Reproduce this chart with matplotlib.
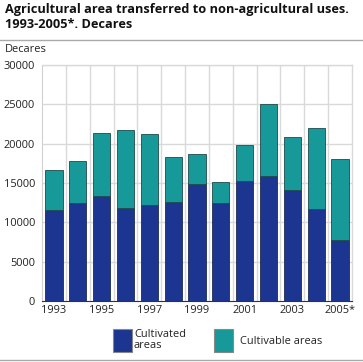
import matplotlib
matplotlib.use("Agg")
import matplotlib.pyplot as plt
from matplotlib.patches import Rectangle
from matplotlib.lines import Line2D
import numpy as np

years = ["1993", "1994", "1995", "1996", "1997", "1998", "1999",
         "2000", "2001", "2002", "2003", "2004", "2005*"]
cultivated = [11600, 12500, 13300, 11800, 12200, 12600, 14900,
              12500, 15200, 15900, 14100, 11700, 7800]
total = [16600, 17800, 21300, 21700, 21250, 18300, 18700,
         15100, 19800, 25000, 20900, 22000, 18000]
cultivable = [t - c for t, c in zip(total, cultivated)]
yticks = [0, 5000, 10000, 15000, 20000, 25000, 30000]

c_blue = "#1b3590"
c_teal = "#17999a"
font = ["Open Sans", "DejaVu Sans"]
plt.rcParams["font.family"] = font
fs = 7.9

fig = plt.figure(figsize=(3.63, 3.62), dpi=100)
ax = fig.add_axes([42/363, 1-301/362, (352-42)/363, (301-65)/362])

x = np.arange(len(years))
ax.bar(x, cultivated, width=0.72, color=c_blue, edgecolor="#1d2a50", linewidth=0.6, zorder=3)
ax.bar(x, cultivable, bottom=cultivated, width=0.72, color=c_teal, edgecolor="#1f4a4a", linewidth=0.6, zorder=3)

ax.set_xlim(-0.5, len(years) - 0.5)
ax.set_ylim(0, 30000)
ax.set_yticks(yticks)
ax.set_yticklabels([str(v) for v in yticks], fontsize=fs, color="#222222")
ax.set_xticks(x[::2])
ax.set_xticklabels(years[::2], fontsize=fs, color="#222222")
ax.tick_params(length=0, pad=3)
ax.tick_params(axis="y", pad=5)

for v in yticks[1:]:
    ax.axhline(v, color="#d9d9d9", lw=1.0, zorder=1)
for b in np.arange(0.5, len(years) - 0.5, 1):
    ax.axvline(b, color="#d9d9d9", lw=1.0, zorder=1)
for s in ["top", "right"]:
    ax.spines[s].set_color("#d9d9d9")
    ax.spines[s].set_linewidth(1.0)
ax.spines["left"].set_color("#d0d0d0")
ax.spines["bottom"].set_color("#333333")
ax.spines["bottom"].set_linewidth(0.8)

fig.text(5/363, 1-3/362, "Agricultural area transferred to non-agricultural uses.\n1993-2005*. Decares",
         fontsize=9.2, fontweight="bold", va="top", ha="left", linespacing=1.2, color="#111111")
fig.add_artist(Line2D([0, 1], [1-39.5/362]*2, color="#aaaaaa", lw=1.0))
fig.text(5/363, 1-50/362, "Decares", fontsize=fs, va="center", ha="left", color="#222222")
fig.add_artist(Line2D([0, 1], [1-359.5/362]*2, color="#aaaaaa", lw=1.0))

# legend
fig.add_artist(Rectangle((113/363, 1-352/362), 19/363, 23/362, facecolor=c_blue,
                         edgecolor="#888888", lw=0.8, transform=fig.transFigure))
fig.text(134/363, 1-340/362, "Cultivated\nareas", fontsize=fs, va="center", ha="left",
         linespacing=1.1, color="#222222")
fig.add_artist(Rectangle((214/363, 1-352/362), 19/363, 23/362, facecolor=c_teal,
                         edgecolor="#888888", lw=0.8, transform=fig.transFigure))
fig.text(240/363, 1-341/362, "Cultivable areas", fontsize=fs, va="center", ha="left", color="#222222")

fig.savefig("out.png", dpi=100)
